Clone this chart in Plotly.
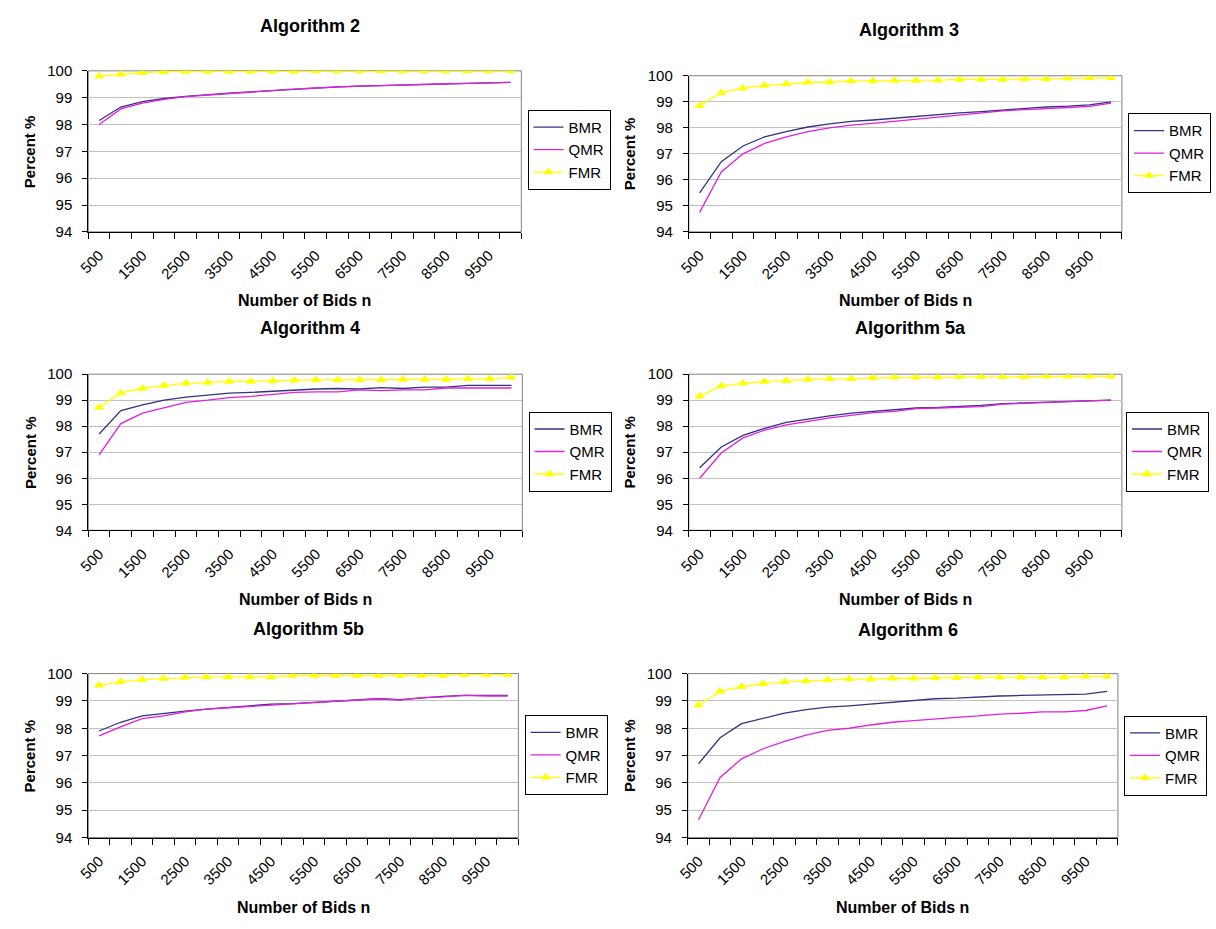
import plotly.graph_objects as go

# ---------------- data ----------------
bids = [500, 1000, 1500, 2000, 2500, 3000, 3500, 4000, 4500, 5000,
        5500, 6000, 6500, 7000, 7500, 8000, 8500, 9000, 9500, 10000]
tick_labels = [500, 1500, 2500, 3500, 4500, 5500, 6500, 7500, 8500, 9500]
series_names = ["BMR", "QMR", "FMR"]
titles = ["Algorithm 2", "Algorithm 3", "Algorithm 4", "Algorithm 5a", "Algorithm 5b", "Algorithm 6"]

alg2_bmr = [98.15, 98.65, 98.85, 98.97, 99.05, 99.12, 99.17, 99.22, 99.27, 99.32,
            99.36, 99.40, 99.43, 99.45, 99.48, 99.50, 99.52, 99.53, 99.55, 99.57]
alg2_qmr = [98.00, 98.58, 98.80, 98.94, 99.04, 99.10, 99.15, 99.22, 99.27, 99.32,
            99.36, 99.40, 99.43, 99.45, 99.48, 99.50, 99.52, 99.53, 99.55, 99.57]
alg2_fmr = [99.80, 99.87, 99.93, 99.97, 99.98, 99.98, 99.98, 99.98, 99.98, 99.98,
            99.99, 99.99, 99.99, 99.99, 99.99, 99.99, 99.99, 99.99, 99.99, 99.99]

alg3_bmr = [95.50, 96.70, 97.30, 97.65, 97.85, 98.03, 98.15, 98.25, 98.30, 98.37,
            98.43, 98.50, 98.57, 98.62, 98.68, 98.75, 98.80, 98.83, 98.88, 99.00]
alg3_qmr = [94.75, 96.30, 97.00, 97.40, 97.65, 97.85, 98.00, 98.10, 98.17, 98.25,
            98.33, 98.42, 98.50, 98.57, 98.65, 98.70, 98.75, 98.78, 98.82, 98.95]
alg3_fmr = [98.85, 99.35, 99.52, 99.63, 99.68, 99.75, 99.75, 99.80, 99.80, 99.82,
            99.82, 99.83, 99.86, 99.86, 99.86, 99.88, 99.88, 99.90, 99.92, 99.92]

alg4_bmr = [97.70, 98.60, 98.82, 99.00, 99.12, 99.20, 99.27, 99.30, 99.35, 99.40,
            99.43, 99.45, 99.43, 99.48, 99.45, 99.50, 99.50, 99.57, 99.57, 99.57]
alg4_qmr = [96.90, 98.10, 98.50, 98.72, 98.92, 99.00, 99.10, 99.15, 99.22, 99.30,
            99.32, 99.32, 99.40, 99.37, 99.40, 99.40, 99.47, 99.47, 99.47, 99.47]
alg4_fmr = [98.72, 99.28, 99.45, 99.57, 99.65, 99.68, 99.72, 99.72, 99.75, 99.77,
            99.78, 99.78, 99.78, 99.78, 99.80, 99.80, 99.80, 99.82, 99.82, 99.88]

alg5a_bmr = [96.40, 97.20, 97.65, 97.92, 98.15, 98.28, 98.40, 98.50, 98.57, 98.62,
             98.70, 98.72, 98.75, 98.80, 98.87, 98.90, 98.92, 98.95, 98.97, 99.00]
alg5a_qmr = [96.00, 96.97, 97.55, 97.85, 98.05, 98.18, 98.32, 98.42, 98.52, 98.57,
             98.68, 98.70, 98.72, 98.75, 98.85, 98.88, 98.90, 98.93, 98.97, 99.00]
alg5a_fmr = [99.15, 99.55, 99.65, 99.72, 99.75, 99.80, 99.82, 99.82, 99.86, 99.88,
             99.88, 99.88, 99.90, 99.90, 99.90, 99.90, 99.92, 99.92, 99.92, 99.92]

alg5b_bmr = [97.90, 98.22, 98.45, 98.55, 98.63, 98.70, 98.75, 98.82, 98.88, 98.90,
             98.95, 99.00, 99.05, 99.08, 99.05, 99.12, 99.17, 99.20, 99.20, 99.20]
alg5b_qmr = [97.72, 98.05, 98.35, 98.45, 98.60, 98.70, 98.75, 98.80, 98.85, 98.90,
             98.95, 99.00, 99.03, 99.08, 99.03, 99.12, 99.15, 99.20, 99.18, 99.18]
alg5b_fmr = [99.57, 99.70, 99.78, 99.82, 99.86, 99.88, 99.88, 99.88, 99.88, 99.93,
             99.93, 99.93, 99.93, 99.93, 99.93, 99.93, 99.93, 99.96, 99.96, 99.96]

alg6_bmr = [96.70, 97.65, 98.17, 98.35, 98.55, 98.68, 98.77, 98.82, 98.88, 98.95,
            99.02, 99.08, 99.10, 99.15, 99.18, 99.20, 99.22, 99.22, 99.25, 99.35]
alg6_qmr = [94.65, 96.20, 96.88, 97.25, 97.52, 97.75, 97.92, 98.00, 98.12, 98.22,
            98.28, 98.35, 98.40, 98.45, 98.52, 98.55, 98.60, 98.60, 98.65, 98.82]
alg6_fmr = [98.85, 99.35, 99.52, 99.63, 99.70, 99.73, 99.77, 99.80, 99.80, 99.83,
            99.83, 99.85, 99.85, 99.87, 99.87, 99.87, 99.87, 99.87, 99.90, 99.90]

panels = [
    (alg2_bmr, alg2_qmr, alg2_fmr),
    (alg3_bmr, alg3_qmr, alg3_fmr),
    (alg4_bmr, alg4_qmr, alg4_fmr),
    (alg5a_bmr, alg5a_qmr, alg5a_fmr),
    (alg5b_bmr, alg5b_qmr, alg5b_fmr),
    (alg6_bmr, alg6_qmr, alg6_fmr),
]

# ---------------- layout geometry (pixels) ----------------
W, H = 1216, 929
# (left, right, top, bottom) of each plot area
plot_px = [
    (78, 515, 63, 227),
    (684, 1121, 68, 227),
    (78, 516, 372, 531),
    (684, 1121, 372, 531),
    (78, 512, 677, 844),
    (683, 1117, 677, 844),
]
title_px = [(302, 17), (906, 21), (302, 325), (908, 325), (300, 632), (905, 633)]
xtitle_y = [297, 297, 602, 602, 915, 915]
# (right edge, vertical centre) of each legend box
legend_px = [(605, 143.5), (1211, 147), (606, 451), (1209, 451), (602, 760), (1207, 760.5)]

colors = ["#333380", "#e020e0", "#ffff00"]
FONT = "Arial, 'Liberation Sans', sans-serif"

half = (bids[1] - bids[0]) / 2
boundaries = [b - half for b in bids] + [bids[-1] + half]

fig = go.Figure()
layout = dict(
    width=W, height=H,
    margin=dict(l=0, r=0, t=0, b=0),
    paper_bgcolor="white",
    plot_bgcolor="white",
    font=dict(family=FONT, color="black"),
    annotations=[],
    shapes=[],
)

for i, (data, (l, r, t, b)) in enumerate(zip(panels, plot_px)):
    k = "" if i == 0 else str(i + 1)
    xa, ya = "x" + k, "y" + k
    leg = "legend" + k
    for j, (name, vals) in enumerate(zip(series_names, data)):
        if name == "FMR":
            fig.add_trace(go.Scatter(
                x=bids, y=vals, name=name, mode="lines+markers",
                line=dict(color=colors[j], width=1.3),
                marker=dict(symbol="triangle-up", size=9, color=colors[j]),
                xaxis=xa, yaxis=ya, legend=leg, showlegend=True))
        else:
            fig.add_trace(go.Scatter(
                x=bids, y=vals, name=name, mode="lines",
                line=dict(color=colors[j], width=1.3),
                xaxis=xa, yaxis=ya, legend=leg, showlegend=True))

    layout["xaxis" + k] = dict(
        domain=[l / W, r / W], anchor=ya,
        range=[boundaries[0], boundaries[-1]],
        tickmode="array", tickvals=tick_labels,
        ticktext=[str(v) for v in tick_labels],
        tickangle=-45, ticks="", showgrid=False,
        ticklabelstandoff=8,
        showline=True, linecolor="black", linewidth=1,
        tickfont=dict(size=15, family=FONT, color="black"),
        minor=dict(tickmode="array", tickvals=boundaries, ticks="outside",
                   ticklen=6, tickcolor="black", showgrid=False),
        zeroline=False,
        title=dict(text=""),
    )
    layout["yaxis" + k] = dict(
        domain=[1 - b / H, 1 - t / H], anchor=xa,
        range=[94, 100], tickmode="linear", tick0=94, dtick=1,
        ticks="outside", ticklen=5, tickcolor="black",
        ticklabelstandoff=7,
        showgrid=True, gridcolor="#c0c0c0", gridwidth=1,
        showline=True, linecolor="black", linewidth=1,
        tickfont=dict(size=15, family=FONT, color="black"),
        zeroline=False,
    )
    # gray plot-area border (top/right)
    layout["shapes"].append(dict(
        type="rect", xref=xa + " domain", yref=ya + " domain",
        x0=0, x1=1, y0=0, y1=1, line=dict(color="#808080", width=1),
        layer="below"))
    # title
    tx, ty = title_px[i]
    layout["annotations"].append(dict(
        text="<b>%s</b>" % titles[i], x=tx / W, y=1 - ty / H,
        xref="paper", yref="paper", xanchor="center", yanchor="middle",
        showarrow=False, font=dict(size=18, family=FONT, color="black")))
    # y axis title
    ytx = 19 if i % 2 == 0 else 624
    layout["annotations"].append(dict(
        text="<b>Percent %</b>", x=ytx / W, y=1 - ((t + b) / 2) / H,
        xref="paper", yref="paper", xanchor="center", yanchor="middle",
        textangle=-90, showarrow=False,
        font=dict(size=15, family=FONT, color="black")))
    # x axis title
    layout["annotations"].append(dict(
        text="<b>Number of Bids n</b>", x=((l + r) / 2) / W, y=1 - xtitle_y[i] / H,
        xref="paper", yref="paper", xanchor="center", yanchor="middle",
        showarrow=False, font=dict(size=16, family=FONT, color="black")))
    # legend
    lx, ly = legend_px[i]
    layout[leg] = dict(
        x=lx / W, y=1 - ly / H, xref="paper", yref="paper",
        xanchor="right", yanchor="middle",
        bgcolor="white", bordercolor="black", borderwidth=1,
        font=dict(size=15, family=FONT, color="black"),
        itemwidth=30, tracegroupgap=0,
    )

fig.update_layout(**layout)
fig.write_html(
    "out.html",
    config={"displayModeBar": False},
    post_script="document.body.style.margin='0';document.body.style.overflow='hidden';",
)
